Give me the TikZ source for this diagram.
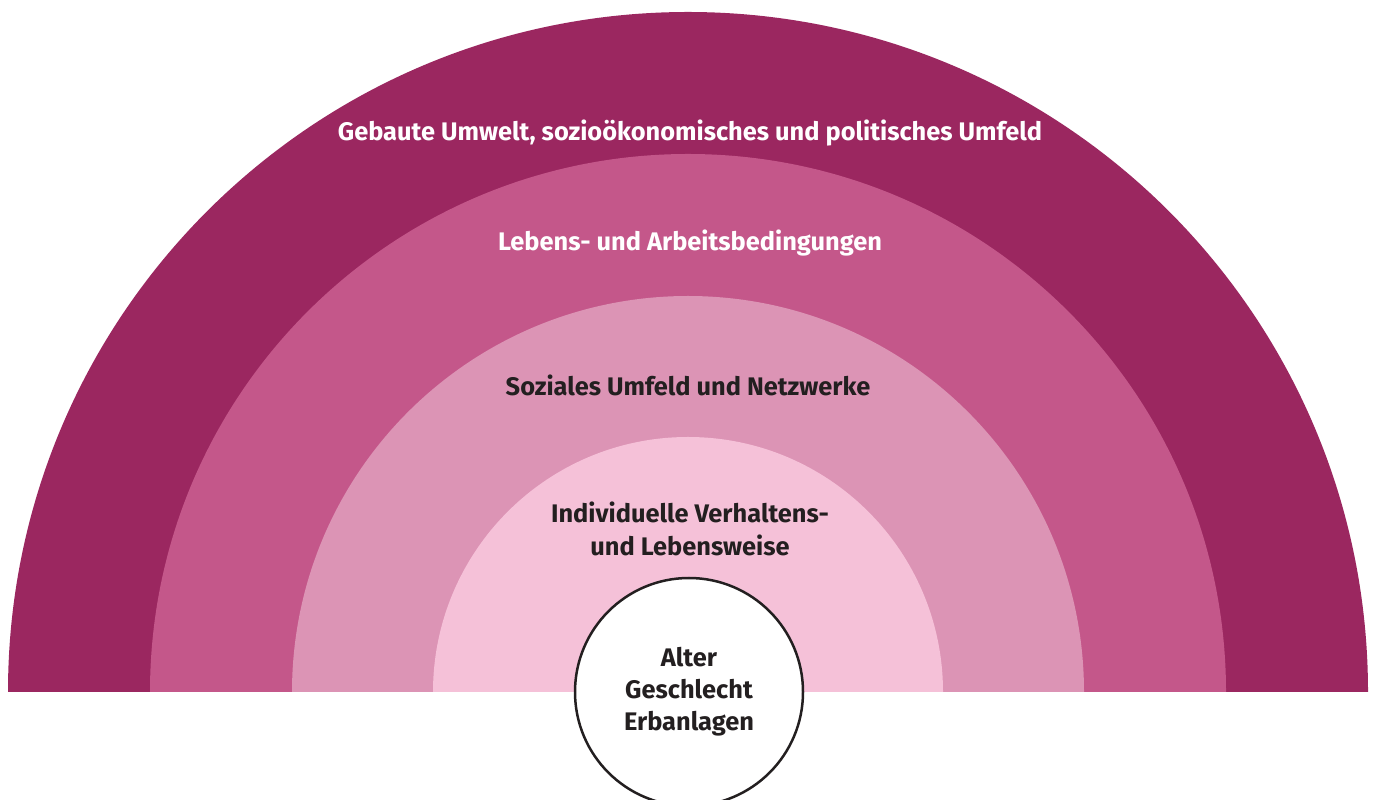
\documentclass[tikz,border=0pt]{standalone}
\usepackage{fontspec}
\setmainfont{Fira Sans}[UprightFont=* Bold, BoldFont=* Bold]
\definecolor{ringA}{HTML}{9B2760}
\definecolor{ringB}{HTML}{C4578A}
\definecolor{ringC}{HTML}{DC94B5}
\definecolor{ringD}{HTML}{F5C1D8}
\definecolor{ink}{HTML}{231F20}
\tikzset{
  lbl/.style={font=\fontsize{25.4}{33}\selectfont, align=center, inner sep=0pt},
  lightlbl/.style={lbl, text=white},
  darklbl/.style={lbl, text=ink},
  core/.style={circle, draw=ink, line width=2.5pt, fill=white, minimum size=228pt, inner sep=0pt, darklbl, font=\fontsize{25.4}{32}\selectfont}
}
\begin{document}
\begin{tikzpicture}[x=1pt,y=1pt]
\useasboundingbox (0,0) rectangle (1373,800);
\fill[ringA] (8,108) arc[start angle=180,end angle=0,radius=680] -- cycle;
\fill[ringB] (150,108) arc[start angle=180,end angle=0,radius=538] -- cycle;
\fill[ringC] (292,108) arc[start angle=180,end angle=0,radius=396] -- cycle;
\fill[ringD] (433,108) arc[start angle=180,end angle=0,radius=255] -- cycle;
\node[lightlbl] (l1) at (690,667) {Gebaute Umwelt, sozioökonomisches und politisches Umfeld};
\node[lightlbl] (l2) at (690,557) {Lebens- und Arbeitsbedingungen};
\node[darklbl] (l3) at (688,415) {Soziales Umfeld und Netzwerke};
\node[darklbl] (l4) at (690,271) {Individuelle Verhaltens-\\und Lebensweise};
\node[core] (c) at (689,108) {Alter\\Geschlecht\\Erbanlagen};
\end{tikzpicture}
\end{document}
